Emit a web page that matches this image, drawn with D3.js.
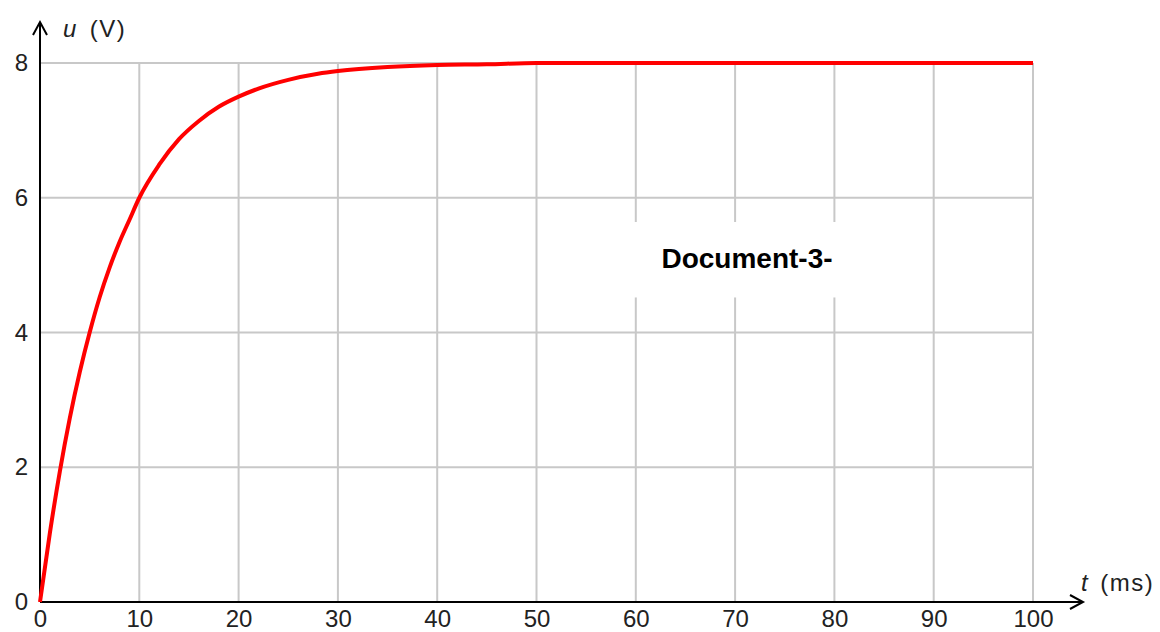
<!DOCTYPE html>
<html>
<head>
<meta charset="utf-8">
<script src="https://cdn.jsdelivr.net/npm/d3@7"></script>
<style>
  html, body { margin: 0; padding: 0; background: #fff; }
  svg { display: block; }
  .tick text { font-family: "Liberation Sans", Arial, sans-serif; font-size: 24px; fill: #222; }
  .lbl { font-family: "Liberation Sans", Arial, sans-serif; font-size: 24px; fill: #222; letter-spacing: 1.5px; }
</style>
</head>
<body>
<svg id="chart" width="1160" height="632"></svg>
<script>
// ---- data ----
const timeMs = [0, 1, 2, 3, 4, 5, 6, 7, 8, 9, 10, 12, 14, 16, 18, 20, 22, 25, 28, 30, 35, 40, 45, 50, 60, 70, 80, 90, 100];
const voltage = [0, 1.03, 1.94, 2.73, 3.41, 4.0, 4.52, 4.96, 5.34, 5.67, 6.0, 6.49, 6.87, 7.14, 7.35, 7.5, 7.62, 7.75, 7.84, 7.88, 7.94, 7.97, 7.98, 8.0, 8.0, 8.0, 8.0, 8.0, 8.0];
const xTicks = [0, 10, 20, 30, 40, 50, 60, 70, 80, 90, 100];
const yTicks = [0, 2, 4, 6, 8];
const docLabel = "Document-3-";

// ---- layout ----
const x0 = 40, x100 = 1033, yZero = 602, yEight = 63;
const svg = d3.select("#chart");

const x = d3.scaleLinear().domain([0, 100]).range([x0, x100]);
const y = d3.scaleLinear().domain([0, 8]).range([yZero, yEight]);

// grid
const grid = svg.append("g").attr("stroke", "#c8c8c8").attr("stroke-width", 2);
grid.selectAll(".v").data(xTicks.filter(d => d > 0)).join("line")
  .attr("x1", d => x(d)).attr("x2", d => x(d))
  .attr("y1", y(0)).attr("y2", y(8));
grid.selectAll(".h").data(yTicks.filter(d => d > 0)).join("line")
  .attr("x1", x(0)).attr("x2", x(100))
  .attr("y1", d => y(d)).attr("y2", d => y(d));

// white box behind the document label
svg.append("rect")
  .attr("x", x(59.4)).attr("y", y(5.64))
  .attr("width", x(80.6) - x(59.4)).attr("height", y(4.52) - y(5.64))
  .attr("fill", "#fff");

svg.append("text")
  .attr("x", x(71.2)).attr("y", y(4.95))
  .attr("text-anchor", "middle")
  .attr("font-family", "'Liberation Sans', Arial, sans-serif")
  .attr("font-weight", "bold")
  .attr("font-size", 28)
  .attr("fill", "#000")
  .text(docLabel);

// tick labels
const xAxis = svg.append("g")
  .attr("transform", `translate(0,${yZero + 8})`)
  .call(d3.axisBottom(x).tickValues(xTicks).tickSize(0).tickPadding(0));
xAxis.select(".domain").remove();
xAxis.selectAll("text").attr("dy", "0.71em");

const yAxis = svg.append("g")
  .attr("transform", `translate(${x0 - 12},0)`)
  .call(d3.axisLeft(y).tickValues(yTicks).tickSize(0).tickPadding(0));
yAxis.select(".domain").remove();

// axes with arrows
const axes = svg.append("g").attr("stroke", "#000").attr("stroke-width", 2).attr("fill", "none");
axes.append("line").attr("x1", x0).attr("x2", 1083).attr("y1", yZero).attr("y2", yZero);
axes.append("line").attr("x1", x0).attr("x2", x0).attr("y1", yZero).attr("y2", 22);
axes.append("path").attr("d", `M1070,595 L1083,${yZero} L1070,609`);
axes.append("path").attr("d", `M33,35 L${x0},22 L47,35`);

// axis titles
const ut = svg.append("text").attr("class", "lbl").attr("x", 63).attr("y", 37);
ut.append("tspan").attr("font-style", "italic").text("u");
ut.append("tspan").attr("dx", 12).text("(V)");
const tt = svg.append("text").attr("class", "lbl").attr("x", 1081).attr("y", 591);
tt.append("tspan").attr("font-style", "italic").text("t");
tt.append("tspan").attr("dx", 11).text("(ms)");

// curve
const pts = timeMs.map((t, i) => ({ t, u: voltage[i] }));
svg.append("path")
  .datum(pts)
  .attr("fill", "none")
  .attr("stroke", "#ff0000")
  .attr("stroke-width", 4)
  .attr("d", d3.line().x(d => x(d.t)).y(d => y(d.u)).curve(d3.curveMonotoneX));
</script>
</body>
</html>
